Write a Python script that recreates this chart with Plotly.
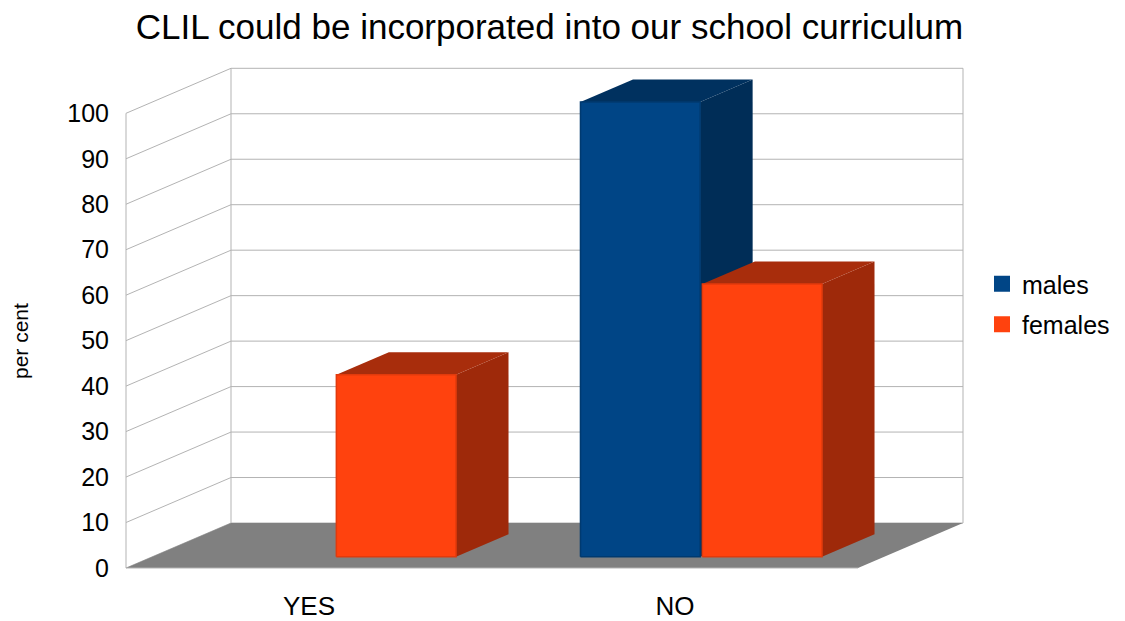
import plotly.graph_objects as go

# ---- data -------------------------------------------------------------
categories = ["YES", "NO"]
series_names = ["males", "females"]
males = [0, 100]
females = [40, 60]
y_ticks = list(range(0, 101, 10))
title_text = "CLIL could be incorporated into our school curriculum"
y_title = "per cent"

# ---- geometry of the oblique 3-D projection ---------------------------
W, H = 1125, 621
X0_PX, CAT_PX = 126, 366          # front-left corner, width of one category
Y0_PX, UNIT_PX = 568, 4.547       # baseline pixel, pixels per percentage point
DEPTH_X = 105 / CAT_PX            # horizontal shift of the full depth (x units)
DEPTH_Y = 45 / UNIT_PX            # vertical shift of the full depth (y units)
BAR_D0, BAR_D1 = 0.25, 0.75       # bar slab position inside the depth
BAR_OFFSETS = {"males": (-0.33, -0.003), "females": (0.003, 0.33)}

FRONT = {"males": "#004586", "females": "#ff420e"}
SIDE = {"males": "#002d57", "females": "#9e290a"}
TOP = {"males": "#00315f", "females": "#a82d0c"}
EDGE = {"males": "#003a70", "females": "#e23a0c"}
GRID = "#b3b3b3"
FLOOR = "#808080"
FONT = "Liberation Sans, Arial, sans-serif"

n_cat = len(categories)


def proj(x, y, d):
    return x + d * DEPTH_X, y + d * DEPTH_Y


def polygon(points, fill, line_color=None, width=0):
    xs = [p[0] for p in points] + [points[0][0]]
    ys = [p[1] for p in points] + [points[0][1]]
    return go.Scatter(
        x=xs, y=ys, mode="lines", fill="toself", fillcolor=fill,
        line=dict(color=line_color or fill, width=width),
        hoverinfo="skip", showlegend=False,
    )


fig = go.Figure()

# ---- walls: gridlines on left and back walls --------------------------
gx, gy = [], []
for v in y_ticks:
    a = proj(0, v, 0)
    b = proj(0, v, 1)
    c = proj(n_cat, v, 1)
    gx += [a[0], b[0], c[0], None]
    gy += [a[1], b[1], c[1], None]
a, b = proj(0, 0, 0), proj(0, y_ticks[-1], 0)
gx += [a[0], b[0], None]
gy += [a[1], b[1], None]
for x in (0, n_cat):
    a, b = proj(x, 0, 1), proj(x, y_ticks[-1], 1)
    gx += [a[0], b[0], None]
    gy += [a[1], b[1], None]
fig.add_trace(go.Scatter(x=gx, y=gy, mode="lines",
                         line=dict(color=GRID, width=1),
                         hoverinfo="skip", showlegend=False))

# ---- floor ------------------------------------------------------------
fig.add_trace(polygon([proj(0, 0, 0), proj(0, 0, 1),
                       proj(n_cat, 0, 1), proj(n_cat, 0, 0)], FLOOR))
fig.add_trace(go.Scatter(x=[0, n_cat], y=[0, 0], mode="lines",
                         line=dict(color=GRID, width=1),
                         hoverinfo="skip", showlegend=False))

# ---- bars -------------------------------------------------------------
values = {"males": males, "females": females}
for i in range(n_cat):
    c = i + 0.5
    for s in series_names:
        v = values[s][i]
        if v <= 0:
            continue
        o0, o1 = BAR_OFFSETS[s]
        xl, xr = c + o0, c + o1
        side = [proj(xr, 0, BAR_D0), proj(xr, 0, BAR_D1),
                proj(xr, v, BAR_D1), proj(xr, v, BAR_D0)]
        top = [proj(xl, v, BAR_D0), proj(xr, v, BAR_D0),
               proj(xr, v, BAR_D1), proj(xl, v, BAR_D1)]
        front = [proj(xl, 0, BAR_D0), proj(xr, 0, BAR_D0),
                 proj(xr, v, BAR_D0), proj(xl, v, BAR_D0)]
        fig.add_trace(polygon(side, SIDE[s]))
        fig.add_trace(polygon(top, TOP[s]))
        fig.add_trace(polygon(front, FRONT[s], EDGE[s], 1.5))

# ---- legend entries ---------------------------------------------------
for s in series_names:
    fig.add_trace(go.Scatter(
        x=[None], y=[None], mode="markers", name=s, legendgroup=s,
        marker=dict(symbol="square", size=16, color=FRONT[s]),
    ))

# ---- axes mapped so data units land on the projected pixels -----------
x_range = [-X0_PX / CAT_PX, (W - X0_PX) / CAT_PX]
y_range = [(Y0_PX - H) / UNIT_PX, Y0_PX / UNIT_PX]

fig.update_layout(
    width=W, height=H,
    margin=dict(l=0, r=0, t=0, b=0),
    paper_bgcolor="white", plot_bgcolor="white",
    font=dict(family=FONT, color="black", size=25),
    title=dict(text=title_text, x=549.5 / W, xanchor="center",
               y=1 - 27 / H, yanchor="middle", yref="container",
               font=dict(size=35, family=FONT, color="black")),
    showlegend=True,
    legend=dict(x=982 / W, xanchor="left", y=1 - 304 / H, yanchor="middle",
                font=dict(size=25, family=FONT), tracegroupgap=5,
                traceorder="grouped", bgcolor="rgba(0,0,0,0)"),
    xaxis=dict(range=x_range, showgrid=False, zeroline=False,
               showline=False, tickmode="array",
               tickvals=[i + 0.5 for i in range(n_cat)],
               ticktext=categories, ticks="",
               anchor="free", position=(H - 588) / H,
               tickfont=dict(size=26, family=FONT)),
    yaxis=dict(range=y_range, showgrid=False, zeroline=False,
               showline=False, tickmode="array", tickvals=y_ticks,
               ticktext=[str(v) for v in y_ticks], ticks="",
               ticklabelstandoff=17,
               anchor="free", position=X0_PX / W,
               tickfont=dict(size=25, family=FONT)),
    annotations=[dict(text=y_title, x=20 / W, y=1 - 341 / H,
                      xref="paper", yref="paper", textangle=-90,
                      showarrow=False, xanchor="center", yanchor="middle",
                      font=dict(size=21, family=FONT, color="black"))],
)

fig.write_html("out.html")
